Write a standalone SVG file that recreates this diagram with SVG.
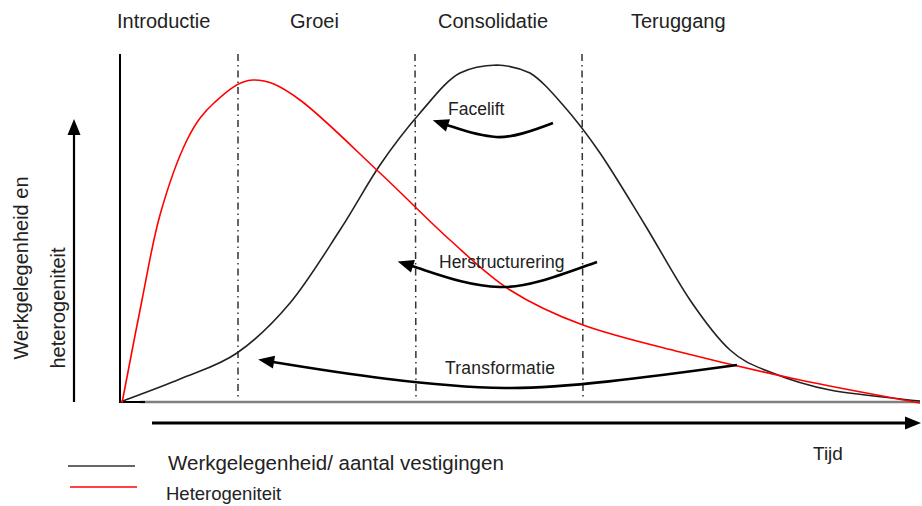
<svg xmlns="http://www.w3.org/2000/svg" width="922" height="506" viewBox="0 0 922 506">
<style>
text{font-family:"Liberation Sans",Arial,sans-serif;fill:#222}
.lbl{font-size:20px}
.arrlbl{font-size:17.5px}
.curve{fill:none;stroke-width:1.6}
.phase{stroke:#333;stroke-width:1.5;stroke-dasharray:7 4 1.5 4;fill:none}
.arr{fill:none;stroke:#000;stroke-width:2.6}
</style>
<defs>
<marker id="ah" markerUnits="userSpaceOnUse" markerWidth="16" markerHeight="13" refX="1" refY="6.5" orient="auto" overflow="visible">
<path d="M0,0 L16,6.5 L0,13 z" fill="#000"/>
</marker>
</defs>
<rect width="922" height="506" fill="#fff"/>

<g id="phase-labels">
<text class="lbl" x="117" y="28">Introductie</text>
<text class="lbl" x="290" y="28">Groei</text>
<text class="lbl" x="438" y="28">Consolidatie</text>
<text class="lbl" x="631" y="28">Teruggang</text>
</g>

<g id="axes">
<line x1="120" y1="54" x2="120" y2="403" stroke="#000" stroke-width="2"/>
<line x1="140" y1="402" x2="920" y2="402" stroke="#808080" stroke-width="2.5"/>
<line x1="119" y1="402" x2="145" y2="402" stroke="#000" stroke-width="2"/>
<line class="phase" x1="238" y1="54" x2="238" y2="398"/>
<line class="phase" x1="415" y1="54" x2="416" y2="398"/>
<line class="phase" x1="582" y1="54" x2="583" y2="398"/>
</g>

<g id="y-label">
<line x1="74" y1="402" x2="74" y2="134" stroke="#000" stroke-width="2.2" marker-end="url(#ah)"/>
<text class="lbl" transform="translate(28,268) rotate(-90)" text-anchor="middle">Werkgelegenheid en</text>
<text class="lbl" transform="translate(65,308) rotate(-90)" text-anchor="middle">heterogeniteit</text>
</g>

<g id="x-label">
<line x1="152" y1="423" x2="906" y2="423" stroke="#000" stroke-width="3" marker-end="url(#ah)"/>
<text x="813" y="460" style="font-size:19px">Tijd</text>
</g>

<g id="curve-werkgelegenheid">
<path class="curve" stroke="#222" d="M120,402 C130,398.2 160.5,387.2 180,379 C199.5,370.8 218.7,365.7 237,353 C255.3,340.3 272.8,323.5 290,303 C307.2,282.5 325,253 340,230 C355,207 366.7,184.5 380,165 C393.3,145.5 406.7,128.3 420,113 C433.3,97.7 447.2,79.4 460,73 C471,67.5 486,65.3 497,65 C508,65.3 520,68.5 530,73 C541,79.7 551.3,91.7 563,105 C574.7,118.3 586.3,133 600,153 C613.7,173 630,200.5 645,225 C660,249.5 675.8,279.2 690,300 C704.2,320.8 716.7,338 730,350 C743.3,362 753.3,365.3 770,372 C786.7,378.7 805,385.2 830,390 C855,394.8 905,399.2 920,401"/>
</g>

<g id="curve-heterogeniteit">
<path class="curve" stroke="#ff0000" d="M122,403 C125.3,385.8 135.7,331.3 142,300 C148.3,268.7 152.5,241.7 160,215 C167.5,188.3 177.8,158.8 187,140 C196.2,121.2 204,112 215,102 C226,92 238.8,80.3 253,80 C267.2,79.7 278.8,84.5 300,100 C321.2,115.5 355,149.7 380,173 C405,196.3 428.3,220.5 450,240 C471.7,259.5 487.8,275.8 510,290 C532.2,304.2 554.7,314.7 583,325 C611.3,335.3 643.8,342.8 680,352 C716.2,361.2 760,371.5 800,380 C840,388.5 900,399.2 920,403"/>
</g>

<g id="connectors">
<g id="arrow-facelift">
<path class="arr" d="M553,123 C532,131 512,138 496,137 C478,136 462,130 447,125" marker-end="url(#ah)"/>
<text class="arrlbl" x="448" y="115">Facelift</text>
</g>
<g id="arrow-herstructurering">
<path class="arr" d="M597,262 C568,272 530,288 500,287 C468,286 440,275 412,266" marker-end="url(#ah)"/>
<text class="arrlbl" x="439" y="268">Herstructurering</text>
</g>
<g id="arrow-transformatie">
<path class="arr" d="M737,365 C650,377 560,389 505,388 C430,387 340,373 273,362" marker-end="url(#ah)"/>
<text class="arrlbl" x="445" y="374" textLength="110">Transformatie</text>
</g>
</g>

<g id="legend">
<line x1="68" y1="466" x2="135" y2="466" stroke="#333" stroke-width="1.6"/>
<line x1="70" y1="487" x2="137" y2="487" stroke="#ff0000" stroke-width="1.6"/>
<text x="168" y="470" style="font-size:20.5px">Werkgelegenheid/ aantal vestigingen</text>
<text x="166" y="500" style="font-size:18.5px">Heterogeniteit</text>
</g>
</svg>
